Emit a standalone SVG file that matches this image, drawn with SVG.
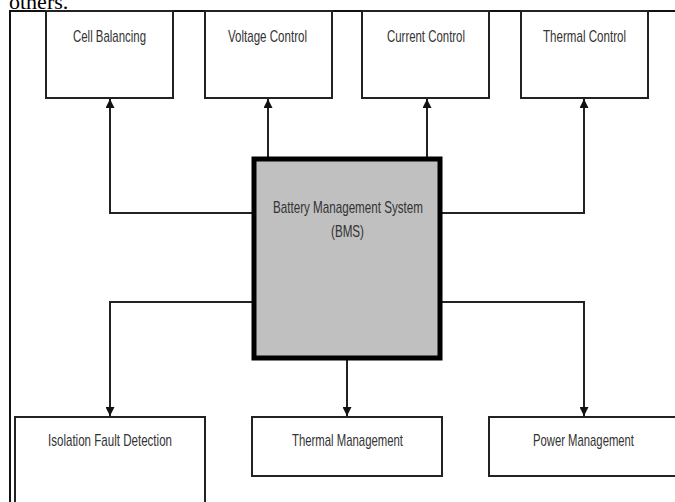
<svg xmlns="http://www.w3.org/2000/svg" width="675" height="502" viewBox="0 0 675 502">
<defs>
<style>
.box{fill:#fff;stroke:#222;stroke-width:2}
.bms{fill:#c0c0c0;stroke:#000;stroke-width:5}
.lbl{font-family:"Liberation Sans",Arial,sans-serif;font-size:17px;fill:#333;text-anchor:middle}
.con{fill:none;stroke:#222;stroke-width:2}
.frame{fill:none;stroke:#111;stroke-width:2}
</style>
<marker id="arr" viewBox="0 0 10 10" refX="10" refY="5" markerWidth="6" markerHeight="4.5" orient="auto" markerUnits="strokeWidth">
<path d="M0,0 L10,5 L0,10 Z" fill="#111"/>
</marker>
</defs>
<rect width="675" height="502" fill="#fff"/>
<text x="9" y="9" font-family="Liberation Serif,'Times New Roman',serif" font-size="22" fill="#000">others.</text>
<path class="frame" d="M10,502 V11 H675"/>
<g id="connectors">
<path class="con" d="M252,213 H110 V99" marker-end="url(#arr)"/>
<path class="con" d="M268,157 V99" marker-end="url(#arr)"/>
<path class="con" d="M427,157 V99" marker-end="url(#arr)"/>
<path class="con" d="M442,213 H584 V99" marker-end="url(#arr)"/>
<path class="con" d="M252,302 H110 V416" marker-end="url(#arr)"/>
<path class="con" d="M347,360 V416" marker-end="url(#arr)"/>
<path class="con" d="M442,302 H584 V416" marker-end="url(#arr)"/>
</g>
<g id="cell-balancing">
<rect class="box" x="46" y="11" width="127" height="87"/>
<text class="lbl" x="109.5" y="42" textLength="73" lengthAdjust="spacingAndGlyphs">Cell Balancing</text>
</g>
<g id="voltage-control">
<rect class="box" x="205" y="11" width="127" height="87"/>
<text class="lbl" x="267.5" y="42" textLength="79" lengthAdjust="spacingAndGlyphs">Voltage  Control</text>
</g>
<g id="current-control">
<rect class="box" x="362" y="11" width="127" height="87"/>
<text class="lbl" x="426" y="42" textLength="78" lengthAdjust="spacingAndGlyphs">Current Control</text>
</g>
<g id="thermal-control">
<rect class="box" x="521" y="11" width="127" height="87"/>
<text class="lbl" x="584.5" y="42" textLength="83" lengthAdjust="spacingAndGlyphs">Thermal  Control</text>
</g>
<g id="bms">
<rect class="bms" x="254" y="159" width="186" height="199"/>
<text class="lbl" x="348" y="213" textLength="150" lengthAdjust="spacingAndGlyphs">Battery Management  System</text>
<text class="lbl" x="347.5" y="237" textLength="33" lengthAdjust="spacingAndGlyphs">(BMS)</text>
</g>
<g id="isolation-fault-detection">
<path class="box" d="M15,503 V417 H205 V503"/>
<text class="lbl" x="110" y="446" textLength="124" lengthAdjust="spacingAndGlyphs">Isolation  Fault  Detection</text>
</g>
<g id="thermal-management">
<rect class="box" x="252" y="417" width="190" height="59"/>
<text class="lbl" x="347.5" y="446" textLength="111" lengthAdjust="spacingAndGlyphs">Thermal  Management</text>
</g>
<g id="power-management">
<path class="box" d="M676,417 H489 V476 H676"/>
<text class="lbl" x="583.5" y="446" textLength="101" lengthAdjust="spacingAndGlyphs">Power Management</text>
</g>
</svg>
